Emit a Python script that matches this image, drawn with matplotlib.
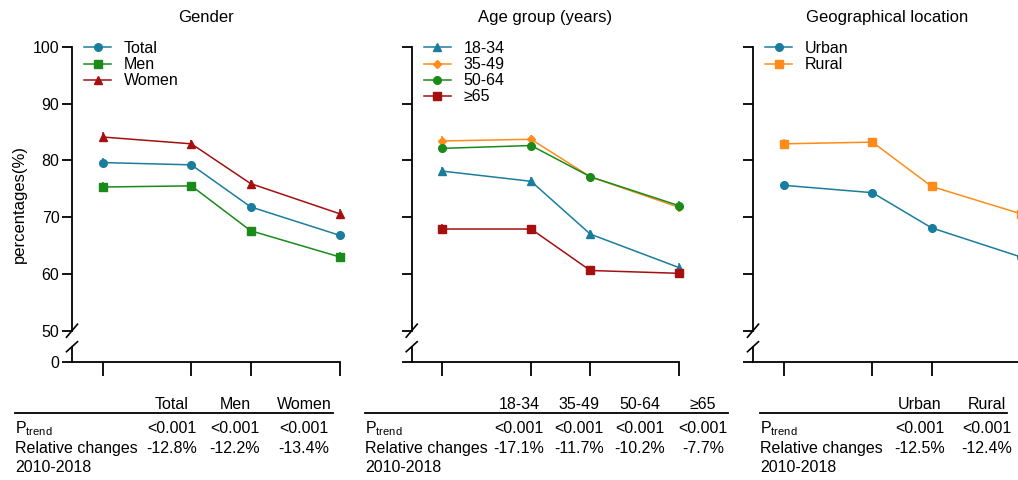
import matplotlib.pyplot as plt

plt.rcParams["font.family"] = ["Liberation Sans", "DejaVu Sans"]

# survey years (x positions of the points)
years = [2010, 2013, 2015, 2018]

# Gender panel
gender_labels = ["Total", "Men", "Women"]
total = [79.6, 79.2, 71.8, 66.8]
men = [75.3, 75.5, 67.6, 63.0]
women = [84.1, 82.9, 75.9, 70.6]

# Age group panel
age_labels = ["18-34", "35-49", "50-64", "≥65"]
age_18_34 = [78.1, 76.3, 67.0, 61.1]
age_35_49 = [83.4, 83.7, 77.1, 71.7]
age_50_64 = [82.1, 82.6, 77.1, 72.0]
age_65 = [67.9, 67.9, 60.6, 60.1]

# Geographical location panel
loc_labels = ["Urban", "Rural"]
urban = [75.6, 74.3, 68.1, 63.0]
rural = [82.9, 83.2, 75.4, 70.6]

# approximate half-width of the error bars
err = [0.8, 0.7, 0.7, 0.8]

# tables under each panel
gender_p = ["<0.001", "<0.001", "<0.001"]
gender_rc = ["-12.8%", "-12.2%", "-13.4%"]
age_p = ["<0.001", "<0.001", "<0.001", "<0.001"]
age_rc = ["-17.1%", "-11.7%", "-10.2%", "-7.7%"]
loc_p = ["<0.001", "<0.001"]
loc_rc = ["-12.5%", "-12.4%"]

titles = ["Gender", "Age group (years)", "Geographical location"]

teal = "#1a7d9e"
green = "#1a8a1a"
red = "#a50f0f"
orange = "#ff8c1a"

W, H = 1018, 480
fig = plt.figure(figsize=(W / 100, H / 100), dpi=100)


def fx(x):
    return x / W


def fy(y):
    return 1 - y / H


panel_left = [72, 411.7, 753]
panel_w = 267.5
top_y0, top_y1 = 46.7, 330.7
bot_y0, bot_y1 = 346.7, 361.7
xlim = (2008.97, 2018)

panels = [
    [(total, "Total", teal, "o", 5.5), (men, "Men", green, "s", 5.5), (women, "Women", red, "^", 6)],
    [(age_18_34, "18-34", teal, "^", 6), (age_35_49, "35-49", orange, "D", 4.2),
     (age_50_64, "50-64", green, "o", 5.5), (age_65, "≥65", red, "s", 5.5)],
    [(urban, "Urban", teal, "o", 5.5), (rural, "Rural", orange, "s", 5.5)],
]

for i, left in enumerate(panel_left):
    ax = fig.add_axes([fx(left), fy(top_y1), fx(panel_w), (top_y1 - top_y0) / H])
    axb = fig.add_axes([fx(left), fy(bot_y1), fx(panel_w), (bot_y1 - bot_y0) / H])

    for vals, lab, col, mk, ms in panels[i]:
        ax.errorbar(years, vals, yerr=err, fmt="none", ecolor=col,
                    elinewidth=1.1, capsize=0, clip_on=False)
        ax.plot(years, vals, color=col, marker=mk, markersize=ms,
                lw=1.1, label=lab, clip_on=False)

    ax.set_xlim(*xlim)
    ax.set_ylim(50, 100)
    ax.set_yticks([50, 60, 70, 80, 90, 100])
    ax.set_xticks([])
    for s in ["top", "right", "bottom"]:
        ax.spines[s].set_visible(False)
    ax.spines["left"].set_linewidth(1.3)
    ax.tick_params(axis="y", length=7, width=1.3, labelsize=11.5, pad=2)
    if i > 0:
        ax.set_yticklabels([])

    axb.set_xlim(*xlim)
    axb.set_ylim(0, 1)
    axb.set_yticks([0])
    axb.set_xticks(years)
    axb.set_xticklabels([])
    for s in ["top", "right"]:
        axb.spines[s].set_visible(False)
    axb.spines["left"].set_linewidth(1.3)
    axb.spines["bottom"].set_linewidth(1.3)
    axb.tick_params(axis="y", length=7, width=1.3, labelsize=11.5, pad=2)
    axb.tick_params(axis="x", length=10, width=1.3)
    if i > 0:
        axb.set_yticklabels([])

    # axis break slashes
    dx = 5.5 / panel_w
    ax.plot([-dx, dx], [-6.5 / 284, 6.5 / 284], transform=ax.transAxes,
            color="black", lw=1.2, clip_on=False)
    axb.plot([-dx, dx], [1 - 5 / 15, 1 + 5 / 15], transform=axb.transAxes,
             color="black", lw=1.2, clip_on=False)

    ax.set_title(titles[i], fontsize=12, pad=18)
    ax.legend(loc="upper left", bbox_to_anchor=(0.045, 1.02), frameon=False,
              fontsize=11.5, handlelength=1.7, handletextpad=0.8,
              labelspacing=0.07, borderpad=0, borderaxespad=0)

fig.text(fx(19), fy(204), "percentages(%)", rotation=90, fontsize=12,
         ha="center", va="center")

# tables
tables = [
    (15, 333, gender_labels, gender_p, gender_rc, [172, 235, 304]),
    (365, 728, age_labels, age_p, age_rc, [519, 579, 640, 703]),
    (760, 1007, loc_labels, loc_p, loc_rc, [920, 987]),
]
for x0, x1, labs, pv, rc, cols in tables:
    fig.add_artist(plt.Line2D([fx(x0), fx(x1)], [fy(413), fy(413)],
                              transform=fig.transFigure, color="black", lw=1.3))
    fig.text(fx(x0), fy(433), r"P$_\mathregular{trend}$", fontsize=11.5, va="baseline")
    fig.text(fx(x0), fy(453), "Relative changes", fontsize=11.5, va="baseline")
    fig.text(fx(x0), fy(472), "2010-2018", fontsize=11.5, va="baseline")
    for c, lab, p, r in zip(cols, labs, pv, rc):
        fig.text(fx(c), fy(409), lab, fontsize=11.5, ha="center", va="baseline")
        fig.text(fx(c), fy(433), p, fontsize=11.5, ha="center", va="baseline")
        fig.text(fx(c), fy(453), r, fontsize=11.5, ha="center", va="baseline")

fig.savefig("out.png", dpi=100)
